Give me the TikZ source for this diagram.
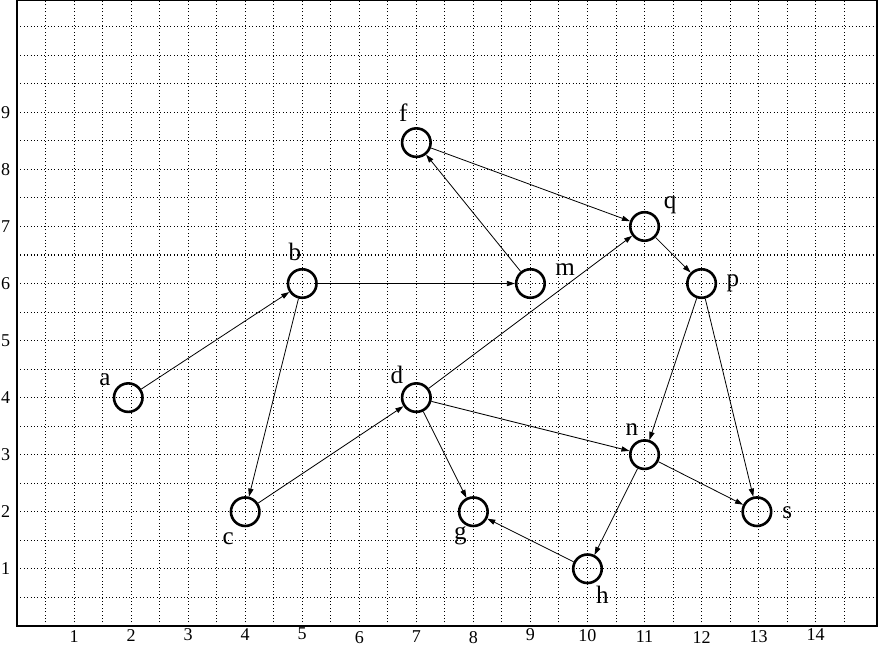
\documentclass[tikz,border=0pt]{standalone}
\usepackage{fontspec}
\setmainfont{Liberation Serif}
\usetikzlibrary{arrows.meta}

\begin{document}
\begin{tikzpicture}
			\tikzstyle{grille}=[line width=0.5pt,dash pattern=on 0.5pt off 1.2pt]
			\tikzstyle{cadre}=[line width=0.9pt]
			\tikzstyle{sommet}=[circle,draw,line width=1.3pt,minimum size=0.5cm,inner sep=0pt]
			\tikzstyle{fleche}=[line width=0.4pt,-{Triangle[length=4pt,width=2.6pt]}]
			\tikzstyle{etiquette}=[inner sep=0pt,font=\fontsize{12.5}{14}\selectfont]
			\tikzstyle{graduation}=[inner sep=0pt,font=\fontsize{9}{10.8}\selectfont]
			\def\Largeur{15.07}\def\Hauteur{10.96}
			\useasboundingbox (-0.298,-0.35) rectangle (15.11,10.97);
			\draw[grille,xstep=0.5,ystep=20] (0,0) grid (14.9,\Hauteur);
			\draw[grille,xstep=20,ystep=0.5] (0,0) grid (\Largeur,10.9);
			\draw[cadre] (0,0) rectangle (\Largeur,\Hauteur);
			\foreach \x/\h in {1/-0.19,2/-0.17,3/-0.16,4/-0.16,5/-0.14,6/-0.21,7/-0.19,8/-0.2,9/-0.16,10/-0.17,11/-0.19,12/-0.2,13/-0.19,14/-0.16}
				\node[graduation] (X\x) at (\x,\h) {\x};
			\foreach \y in {1,...,9} \node[graduation] (Y\y) at (-0.2,\y) {\y};
			\node[sommet] (a) at (1.95,4) {}; \node[sommet] (b) at (5,6) {};
			\node[sommet] (c) at (4,2) {}; \node[sommet] (d) at (7,4) {};
			\node[sommet] (f) at (7,8.47) {}; \node[sommet] (g) at (8,2) {};
			\node[sommet] (h) at (10,1) {}; \node[sommet] (m) at (9,6) {};
			\node[sommet] (n) at (11,3) {}; \node[sommet] (p) at (12,6) {};
			\node[sommet] (q) at (11,7) {}; \node[sommet] (s) at (12.97,2) {};
			\node[etiquette] (Ea) at (1.54,4.31) {a}; \node[etiquette] (Eb) at (4.87,6.56) {b};
			\node[etiquette] (Ec) at (3.7,1.52) {c}; \node[etiquette] (Ed) at (6.66,4.4) {d};
			\node[etiquette] (Ef) at (6.77,8.99) {f}; \node[etiquette] (Eg) at (7.77,1.58) {g};
			\node[etiquette] (Eh) at (10.26,0.54) {h}; \node[etiquette] (Em) at (9.61,6.24) {m};
			\node[etiquette] (En) at (10.78,3.44) {n}; \node[etiquette] (Ep) at (12.55,6.01) {p};
			\node[etiquette] (Eq) at (11.45,7.38) {q}; \node[etiquette] (Es) at (13.5,1.98) {s};
			\draw[fleche] (a)--(b) ; \draw[fleche] (b)--(m) ; \draw[fleche] (b)--(c) ;
			\draw[fleche] (c)--(d) ; \draw[fleche] (d)--(q) ; \draw[fleche] (d)--(n) ;
			\draw[fleche] (d)--(g) ; \draw[fleche] (m)--(f) ; \draw[fleche] (f)--(q) ;
			\draw[fleche] (q)--(p) ; \draw[fleche] (p)--(n) ; \draw[fleche] (p)--(s) ;
			\draw[fleche] (n)--(s) ; \draw[fleche] (n)--(h) ; \draw[fleche] (h)--(g) ;
		\end{tikzpicture}
\end{document}
